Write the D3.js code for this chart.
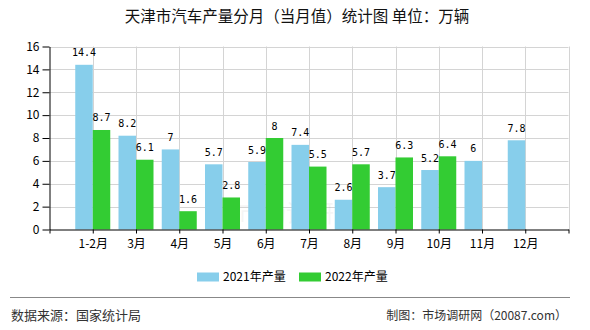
<!DOCTYPE html>
<html>
<head>
<meta charset="utf-8">
<script src="https://cdn.jsdelivr.net/npm/d3@7/dist/d3.min.js"></script>
<style>
  html, body { margin: 0; padding: 0; background: #fff; }
  svg { display: block; }
</style>
</head>
<body>
<svg id="chart" width="590" height="330"></svg>
<script>
// Monthly vehicle output, Tianjin (10k units)
const months = ["1-2月", "3月", "4月", "5月", "6月", "7月", "8月", "9月", "10月", "11月", "12月"];
const output2021 = [14.4, 8.2, 7, 5.7, 5.9, 7.4, 2.6, 3.7, 5.2, 6, 7.8];
const output2022 = [8.7, 6.1, 1.6, 2.8, 8, 5.5, 5.7, 6.3, 6.4, null, null];
const yTicks = [0, 2, 4, 6, 8, 10, 12, 14, 16];
const seriesNames = ["2021年产量", "2022年产量"];
const seriesColors = ["#87CEEB", "#33CC33"];

(function () {
const svg = d3.select("#chart");
const cjk = "'Noto Sans CJK SC', 'Noto Sans', sans-serif";
const mono = "'DejaVu Sans Mono', 'Liberation Mono', monospace";

const plotL = 49.5, plotR = 568.5, plotT = 46.5, plotB = 229.5;

// Category slots sit on integer positions 1..11 of a 0..12 axis
const x = d3.scaleLinear().domain([0, months.length + 1]).range([plotL, plotR]);
const y = d3.scaleLinear().domain([0, 16]).range([plotB, plotT]);
const barW = 17.5;

// Title
svg.append("text")
  .attr("x", 297).attr("y", 22)
  .attr("text-anchor", "middle")
  .attr("font-family", cjk).attr("font-size", 15.5)
  .attr("fill", "#111")
  .text("天津市汽车产量分月（当月值）统计图 单位：万辆");

// Grid
const grid = svg.append("g").attr("stroke", "#d4d4d4").attr("stroke-width", 1);
grid.selectAll("line.h").data(yTicks.filter(d => d > 0)).join("line")
  .attr("x1", plotL).attr("x2", plotR)
  .attr("y1", d => Math.round(y(d)) + 0.5).attr("y2", d => Math.round(y(d)) + 0.5);
grid.selectAll("line.v").data(d3.range(1, months.length + 2)).join("line")
  .attr("x1", d => Math.round(x(d)) + 0.5).attr("x2", d => Math.round(x(d)) + 0.5)
  .attr("y1", plotT).attr("y2", plotB);

// Faint watermark
svg.append("text")
  .attr("x", 298).attr("y", 222)
  .attr("text-anchor", "middle")
  .attr("font-family", cjk).attr("font-size", 24)
  .attr("fill", "#000").attr("opacity", 0.035)
  .text("市场调研网");

// Bars
const bars = svg.append("g");
const seriesData = [output2021, output2022];
seriesData.forEach((vals, s) => {
  const data = vals.map((v, i) => ({ v, i })).filter(d => d.v !== null);
  bars.selectAll(null).data(data).join("rect")
    .attr("x", d => x(d.i + 1) - (s === 0 ? barW : 0))
    .attr("y", d => y(d.v))
    .attr("width", barW)
    .attr("height", d => y(0) - y(d.v))
    .attr("fill", seriesColors[s]);
  bars.selectAll(null).data(data).join("text")
    .attr("x", d => x(d.i + 1) + (s === 0 ? -barW / 2 : barW / 2))
    .attr("y", d => y(d.v) - 8.5)
    .attr("text-anchor", "middle")
    .attr("font-family", mono).attr("font-size", 10)
    .attr("fill", "#000")
    .text(d => d.v);
});

// Y axis
const yAxis = svg.append("g")
  .attr("transform", `translate(${plotL},0)`)
  .call(d3.axisLeft(y).tickValues(yTicks).tickSize(7).tickSizeOuter(0).tickPadding(3));
yAxis.select(".domain").attr("stroke", "#000");
yAxis.selectAll(".tick line").attr("stroke", "#000");
yAxis.selectAll("text").attr("font-family", cjk).attr("font-size", 12).attr("fill", "#000");

// X axis
const xAxis = svg.append("g")
  .attr("transform", `translate(0,${plotB})`)
  .call(d3.axisBottom(x).tickValues(d3.range(0, months.length + 2)).tickSize(4).tickSizeOuter(0)
    .tickFormat(d => (d >= 1 && d <= months.length) ? months[d - 1] : ""));
xAxis.select(".domain").attr("stroke", "#000");
xAxis.selectAll(".tick line").attr("stroke", "#000");
xAxis.selectAll("text").attr("font-family", cjk).attr("font-size", 12).attr("fill", "#000").attr("dy", "0.95em");

// Legend
const legend = svg.append("g");
const legendX = [197, 299];
seriesNames.forEach((name, s) => {
  legend.append("rect")
    .attr("x", legendX[s]).attr("y", 272.5)
    .attr("width", 22).attr("height", 9)
    .attr("fill", seriesColors[s]);
  legend.append("text")
    .attr("x", legendX[s] + 26).attr("y", 281)
    .attr("font-family", cjk).attr("font-size", 12)
    .attr("fill", "#000")
    .text(name);
});

// Footer
svg.append("line")
  .attr("x1", 10).attr("x2", 570)
  .attr("y1", 297.5).attr("y2", 297.5)
  .attr("stroke", "#888").attr("stroke-width", 1);
svg.append("text")
  .attr("x", 11).attr("y", 320)
  .attr("font-family", cjk).attr("font-size", 13)
  .attr("fill", "#333")
  .text("数据来源：国家统计局");
svg.append("text")
  .attr("x", 567).attr("y", 320)
  .attr("text-anchor", "end")
  .attr("font-family", cjk).attr("font-size", 12)
  .attr("fill", "#333")
  .text("制图：市场调研网（20087.com）");
})();
</script>
</body>
</html>
